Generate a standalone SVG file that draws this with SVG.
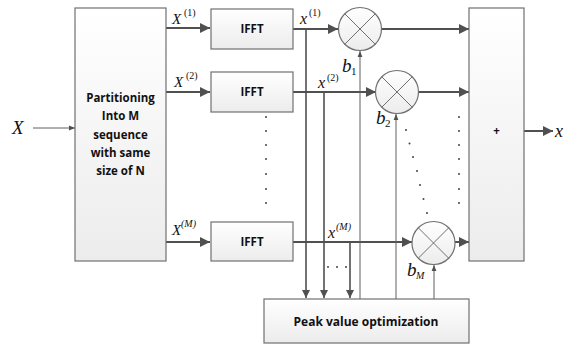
<svg xmlns="http://www.w3.org/2000/svg" width="567" height="345" viewBox="0 0 567 345">
<style>
.box{fill:url(#g);stroke:#707070;stroke-width:1.2}
.lbl{font-family:"Open Sans","Liberation Sans",sans-serif;font-weight:bold;font-size:11.5px;fill:#111;text-anchor:middle}
.m{font-family:"Liberation Serif",serif;font-style:italic;fill:#111}
.n{font-style:normal}
.thick{stroke:#505050;stroke-width:2;fill:none}
.med{stroke:#505050;stroke-width:1.6;fill:none}
.thin{stroke:#606060;stroke-width:1;fill:none}
.dot{fill:#444}
.circ{fill:url(#g);stroke:#707070;stroke-width:1.2}
.x{stroke:#707070;stroke-width:1}
</style>
<defs>
<linearGradient id="g" x1="0" y1="0" x2="0" y2="1">
<stop offset="0" stop-color="#ffffff"/>
<stop offset="1" stop-color="#ececec"/>
</linearGradient>
<marker id="a" viewBox="0 0 10 10" refX="10" refY="5" markerWidth="5" markerHeight="5" orient="auto" markerUnits="strokeWidth">
<path d="M0,0 L10,5 L0,10 z" fill="#505050"/>
</marker>
<marker id="at" viewBox="0 0 10 10" refX="10" refY="5" markerWidth="6" markerHeight="6" orient="auto" markerUnits="strokeWidth">
<path d="M0,1 L10,5 L0,9 z" fill="#505050"/>
</marker>
</defs>

<g id="connectors">
<line class="thin" x1="33" y1="128" x2="75" y2="128" marker-end="url(#at)"/>
<line class="thick" x1="166" y1="28" x2="210" y2="28" marker-end="url(#a)"/>
<line class="thick" x1="166" y1="92" x2="210" y2="92" marker-end="url(#a)"/>
<line class="thick" x1="166" y1="242" x2="210" y2="242" marker-end="url(#a)"/>
<line class="thick" x1="293" y1="29" x2="338" y2="29" marker-end="url(#a)"/>
<line class="thick" x1="293" y1="92" x2="376" y2="92" marker-end="url(#a)"/>
<line class="thick" x1="293" y1="242" x2="412" y2="242" marker-end="url(#a)"/>
<line class="thick" x1="381" y1="29" x2="469" y2="29" marker-end="url(#a)"/>
<line class="thick" x1="418" y1="92" x2="469" y2="92" marker-end="url(#a)"/>
<line class="thick" x1="455" y1="242" x2="469" y2="242" marker-end="url(#a)"/>
<line class="thick" x1="524" y1="131" x2="553" y2="131" marker-end="url(#a)"/>
<line class="med" x1="306" y1="29" x2="306" y2="298" marker-end="url(#a)"/>
<line class="med" x1="324" y1="92" x2="324" y2="298" marker-end="url(#a)"/>
<line class="med" x1="350" y1="242" x2="350" y2="298" marker-end="url(#a)"/>
<line class="thin" x1="360" y1="299" x2="360" y2="51" marker-end="url(#at)"/>
<line class="thin" x1="396" y1="299" x2="396" y2="114" marker-end="url(#at)"/>
<line class="thin" x1="434" y1="299" x2="434" y2="265" marker-end="url(#at)"/>
</g>

<g id="partition">
<rect class="box" x="75" y="8" width="91" height="253"/>
<text class="lbl" x="120.5" y="102">Partitioning</text>
<text class="lbl" x="120.5" y="120">Into M</text>
<text class="lbl" x="120.5" y="139">sequence</text>
<text class="lbl" x="120.5" y="157">with same</text>
<text class="lbl" x="120.5" y="175">size of N</text>
</g>

<g id="ifft1"><rect class="box" x="211" y="9" width="82" height="40"/><text class="lbl" x="252" y="33">IFFT</text></g>
<g id="ifft2"><rect class="box" x="211" y="72" width="82" height="40"/><text class="lbl" x="252" y="96">IFFT</text></g>
<g id="ifftM"><rect class="box" x="211" y="222" width="82" height="39"/><text class="lbl" x="252" y="246">IFFT</text></g>

<g id="mult1"><circle class="circ" cx="360" cy="29" r="21.5"/><path class="x" d="M344.8,13.8 L375.2,44.2 M375.2,13.8 L344.8,44.2"/></g>
<g id="mult2"><circle class="circ" cx="397" cy="92" r="21.5"/><path class="x" d="M381.8,76.8 L412.2,107.2 M412.2,76.8 L381.8,107.2"/></g>
<g id="multM"><circle class="circ" cx="433.5" cy="243" r="21.5"/><path class="x" d="M418.3,227.8 L448.7,258.2 M448.7,227.8 L418.3,258.2"/></g>

<g id="sum"><rect class="box" x="469" y="8" width="55" height="253"/><text class="lbl" x="496.5" y="135">+</text></g>

<g id="peak"><rect class="box" x="264" y="299" width="205" height="44"/><text class="lbl" x="366" y="326" style="font-size:12px">Peak value optimization</text></g>

<g id="labels">
<text class="m" x="12" y="134" font-size="19">X</text>
<text class="m" x="555" y="137" font-size="18">x</text>
<text class="m" x="172" y="24" font-size="15">X</text><text class="m n" x="184" y="16" font-size="10">(1)</text>
<text class="m" x="174" y="87" font-size="15">X</text><text class="m n" x="186" y="79" font-size="10">(2)</text>
<text class="m" x="172" y="235" font-size="15">X</text><text class="m" x="181" y="227" font-size="10">(M)</text>
<text class="m" x="300" y="24" font-size="16">x</text><text class="m n" x="309" y="16" font-size="10">(1)</text>
<text class="m" x="318" y="88" font-size="16">x</text><text class="m n" x="327" y="81" font-size="10">(2)</text>
<text class="m" x="328" y="238" font-size="16">x</text><text class="m" x="336" y="230" font-size="10">(M)</text>
<text class="m" x="342" y="72" font-size="19">b</text><text class="m n" x="351" y="75" font-size="11">1</text>
<text class="m" x="376" y="124" font-size="19">b</text><text class="m n" x="385" y="127" font-size="11">2</text>
<text class="m" x="407" y="276" font-size="19">b</text><text class="m" x="416" y="279" font-size="10">M</text>
</g>

<g id="dots">
<circle class="dot" cx="266" cy="117" r="1"/><circle class="dot" cx="266" cy="131" r="1"/><circle class="dot" cx="266" cy="145" r="1"/><circle class="dot" cx="266" cy="159" r="1"/><circle class="dot" cx="266" cy="174" r="1"/><circle class="dot" cx="266" cy="189" r="1"/><circle class="dot" cx="266" cy="203" r="1"/>
<circle class="dot" cx="459" cy="117" r="1"/><circle class="dot" cx="459" cy="131" r="1"/><circle class="dot" cx="459" cy="145" r="1"/><circle class="dot" cx="459" cy="159" r="1"/><circle class="dot" cx="459" cy="174" r="1"/><circle class="dot" cx="459" cy="189" r="1"/><circle class="dot" cx="459" cy="203" r="1"/>
<circle class="dot" cx="406" cy="130" r="1"/><circle class="dot" cx="409.5" cy="143.5" r="1"/><circle class="dot" cx="413" cy="157" r="1"/><circle class="dot" cx="417" cy="171" r="1"/><circle class="dot" cx="420" cy="185" r="1"/><circle class="dot" cx="423.5" cy="199" r="1"/><circle class="dot" cx="427" cy="213" r="1"/>
<circle class="dot" cx="328" cy="267" r="1"/><circle class="dot" cx="337" cy="267" r="1"/><circle class="dot" cx="346" cy="267" r="1"/>
</g>
</svg>
